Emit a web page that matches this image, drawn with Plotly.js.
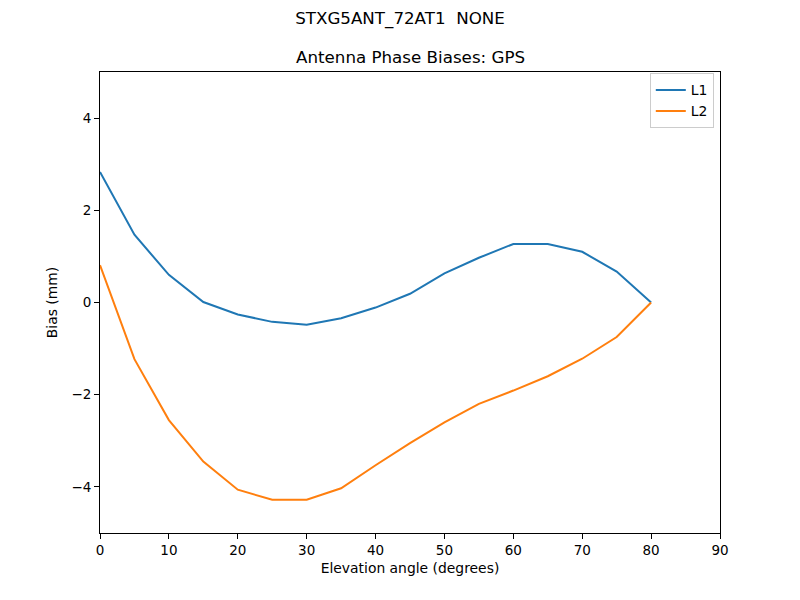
<!DOCTYPE html>
<html>
<head>
<meta charset="utf-8">
<script src="https://cdn.plot.ly/plotly-3.0.1.min.js"></script>
<style>
  body { margin: 0; background: #fff; }
  #plot { width: 800px; height: 600px; }
</style>
</head>
<body>
<div id="plot"></div>
<script>
// elevation angles (degrees)
const elevation = [0, 5, 10, 15, 20, 25, 30, 35, 40, 45, 50, 55, 60, 65, 70, 75, 80]

// phase biases (mm)
const biasL1 = [2.83, 1.47, 0.60, 0.01, -0.26, -0.42, -0.48, -0.34, -0.11, 0.19, 0.63, 0.97, 1.27, 1.27, 1.10, 0.67, 0.0]
const biasL2 = [0.81, -1.23, -2.55, -3.45, -4.06, -4.28, -4.28, -4.03, -3.53, -3.05, -2.60, -2.20, -1.91, -1.60, -1.22, -0.75, 0.0]

const xTicks = [0, 10, 20, 30, 40, 50, 60, 70, 80, 90]
const yTicks = [-4, -2, 0, 2, 4]
const yTickText = ["\u22124", "\u22122", "0", "2", "4"]

const data = [
    {
        type: "scatter",
        mode: "lines",
        name: "L1",
        x: elevation,
        y: biasL1,
        line: { color: "#1f77b4", width: 2 }
    },
    {
        type: "scatter",
        mode: "lines",
        name: "L2",
        x: elevation,
        y: biasL2,
        line: { color: "#ff7f0e", width: 2 }
    }
]

const axisStyle = {
    showgrid: false,
    zeroline: false,
    showline: true,
    mirror: true,
    linecolor: "black",
    linewidth: 1,
    ticks: "outside",
    ticklen: 5,
    tickcolor: "black",
    tickfont: { size: 13.5, color: "black" }
}

const layout = {
    width: 800,
    height: 600,
    margin: { l: 100, r: 80, t: 72, b: 67 },
    paper_bgcolor: "white",
    plot_bgcolor: "white",
    font: { family: "DejaVu Sans, sans-serif", color: "black" },
    title: {
        text: "STXG5ANT_72AT1  NONE",
        font: { size: 16.7 },
        x: 0.5,
        xanchor: "center",
        y: 0.97,
        yanchor: "middle"
    },
    annotations: [
        {
            text: "Antenna Phase Biases: GPS",
            xref: "paper",
            yref: "paper",
            x: 0.5,
            y: 1,
            xanchor: "center",
            yanchor: "bottom",
            yshift: 3,
            showarrow: false,
            font: { size: 16.7 }
        }
    ],
    xaxis: Object.assign({}, axisStyle, {
        range: [0, 90],
        tickvals: xTicks,
        title: { text: "Elevation angle (degrees)", font: { size: 13.9 }, standoff: 6 }
    }),
    yaxis: Object.assign({}, axisStyle, {
        range: [-5, 5],
        tickvals: yTicks,
        ticktext: yTickText,
        title: { text: "Bias (mm)", font: { size: 13.9 }, standoff: 10 }
    }),
    legend: {
        x: 0.99,
        y: 0.997,
        xanchor: "right",
        yanchor: "top",
        bordercolor: "#cccccc",
        borderwidth: 1,
        bgcolor: "rgba(255,255,255,0.8)",
        font: { size: 13.9 },
        tracegroupgap: 0
    },
    showlegend: true
}

Plotly.newPlot("plot", data, layout, { displayModeBar: false, staticPlot: true })
</script>
</body>
</html>
